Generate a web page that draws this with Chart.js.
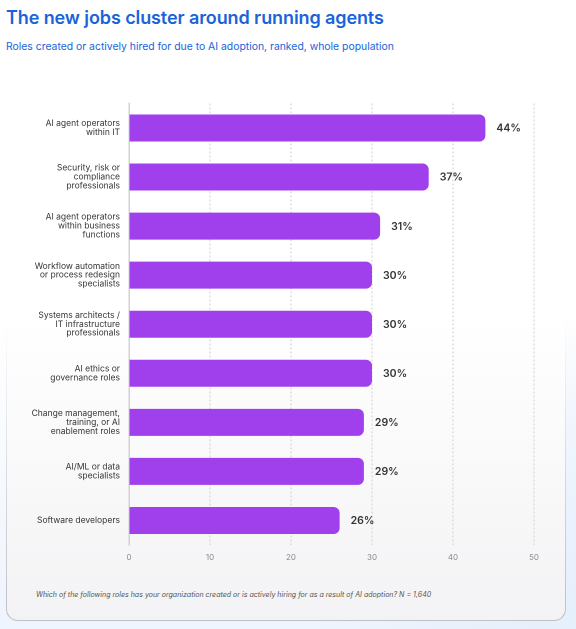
<!DOCTYPE html>
<html>
<head>
<meta charset="utf-8">
<script src="https://cdn.jsdelivr.net/npm/chart.js@4/dist/chart.umd.min.js"></script>
<style>
  html, body { margin:0; padding:0; }
  body {
    width:576px; height:629px; overflow:hidden; position:relative;
    font-family: Inter, "Noto Sans", sans-serif;
    background: linear-gradient(180deg, #ffffff 0%, #ffffff 50%, #eef4fd 100%);
  }
  #bgright {
    position:absolute; left:0; top:0; width:576px; height:629px;
    background: radial-gradient(ellipse 260px 320px at 100% 100%, #e6effc 0%, rgba(230,239,252,0.6) 50%, rgba(255,255,255,0) 100%);
  }
  #cardwrap {
    position:absolute; left:6px; top:70px; width:560px; height:551px;
    border-radius:12px;
    background: linear-gradient(180deg, rgba(200,200,204,0) 0%, rgba(200,200,204,0) 45%, rgba(192,192,196,1) 100%);
    padding:1px; box-sizing:border-box;
  }
  #card {
    width:100%; height:100%; border-radius:11px;
    background: linear-gradient(180deg, #ffffff 0%, #ffffff 45%, #f3f3f5 100%);
  }
  #title {
    position:absolute; left:6px; top:7px; font-size:18px; font-weight:600;
    color:#1a63d9; letter-spacing:-0.1px; white-space:nowrap;
  }
  #subtitle {
    position:absolute; left:6px; top:40px; font-size:10.4px; font-weight:400;
    color:#1a63d9; white-space:nowrap;
  }
  #note {
    position:absolute; left:36px; top:590px; font-size:7.05px; font-style:italic;
    color:#555; white-space:nowrap;
  }
  #c { position:absolute; left:0; top:90px; }
</style>
</head>
<body>
<div id="bgright"></div>
<div id="cardwrap"><div id="card"></div></div>
<div id="title">The new jobs cluster around running agents</div>
<div id="subtitle">Roles created or actively hired for due to AI adoption, ranked, whole population</div>
<canvas id="c" width="576" height="475"></canvas>
<div id="note">Which of the following roles has your organization created or is actively hiring for as a result of AI adoption? N = 1,640</div>
<script>
const categories = [
  ["AI agent operators", "within IT"],
  ["Security, risk or", "compliance", "professionals"],
  ["AI agent operators", "within business", "functions"],
  ["Workflow automation", "or process redesign", "specialists"],
  ["Systems architects /", "IT infrastructure", "professionals"],
  ["AI ethics or", "governance roles"],
  ["Change management,", "training, or AI", "enablement roles"],
  ["AI/ML or data", "specialists"],
  ["Software developers"]
];
const values = [44, 37, 31, 30, 30, 30, 29, 29, 26];
const xTicks = [0, 10, 20, 30, 40, 50];

const valueLabels = {
  id: 'valueLabels',
  afterDatasetsDraw(chart) {
    const ctx = chart.ctx;
    const meta = chart.getDatasetMeta(0);
    ctx.save();
    ctx.font = '600 10.5px Inter, "Noto Sans", sans-serif';
    ctx.fillStyle = '#333333';
    ctx.textAlign = 'left';
    ctx.textBaseline = 'middle';
    meta.data.forEach((bar, i) => {
      ctx.fillText(values[i] + '%', bar.x + 11, bar.y + 0.5);
    });
    ctx.restore();
  }
};

new Chart(document.getElementById('c'), {
  type: 'bar',
  data: {
    labels: categories,
    datasets: [{
      data: values,
      backgroundColor: '#a03fec',
      borderWidth: 0,
      borderRadius: 6,
      borderSkipped: 'start',
      barPercentage: 0.55,
      categoryPercentage: 1
    }]
  },
  options: {
    indexAxis: 'y',
    responsive: false,
    animation: false,
    devicePixelRatio: 2,
    layout: { padding: { top: 8, right: 42, left: 0, bottom: 0 } },
    plugins: { legend: { display: false }, tooltip: { enabled: false } },
    scales: {
      x: {
        min: 0, max: 50,
        afterBuildTicks(scale) { scale.ticks = xTicks.map(v => ({ value: v })); },
        afterFit(scale) { scale.height = 20; },
        border: { display: false, dash: [2, 2] },
        grid: {
          drawTicks: false,
          color: ctx => ctx.tick && ctx.tick.value === 0 ? 'rgba(0,0,0,0)' : '#cfcfd4',
          lineWidth: 1
        },
        ticks: {
          color: '#8a8a8a',
          font: { size: 8, family: 'Inter, "Noto Sans", sans-serif' },
          padding: 8
        }
      },
      y: {
        afterFit(scale) { scale.width = 129; },
        grid: { display: false, drawTicks: false },
        border: { display: true, color: '#d2d2d6', width: 1.5 },
        ticks: {
          color: '#333333',
          font: { size: 8.5, family: 'Inter, "Noto Sans", sans-serif', lineHeight: 1.05 },
          padding: 9,
          autoSkip: false
        }
      }
    }
  },
  plugins: [valueLabels]
});
</script>
</body>
</html>
